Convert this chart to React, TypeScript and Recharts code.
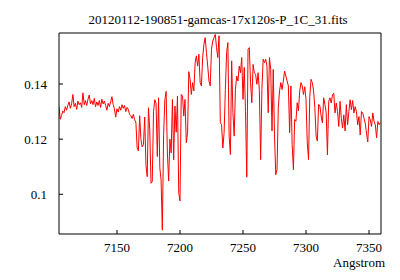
import { LineChart, Line, XAxis, YAxis } from 'recharts'

const title = '20120112-190851-gamcas-17x120s-P_1C_31.fits'
const xLabel = 'Angstrom'
const xTicks = [7150, 7200, 7250, 7300, 7350]
const yTicks = [0.1, 0.12, 0.14]

// flux read per 1 Angstrom, each segment starts at the given wavelength
const fluxFrom7104 = [
  0.1318, 0.1272, 0.1285, 0.1302, 0.1296, 0.1318, 0.1305,
  0.1322, 0.1335, 0.1312, 0.1328, 0.1362, 0.1318, 0.133, 0.1308, 0.1338, 0.1325,
  0.1332, 0.1315, 0.1368, 0.1325, 0.134, 0.1322, 0.1345, 0.136, 0.1328, 0.134,
  0.1325, 0.1348, 0.1318, 0.1335, 0.1322, 0.134, 0.1315, 0.1345, 0.1328, 0.1338,
  0.1322, 0.1305, 0.133, 0.1318, 0.1336, 0.1354, 0.1325, 0.131, 0.128, 0.131,
]
const fluxFrom7151 = [
  0.1298, 0.1318, 0.1305, 0.1325, 0.1312, 0.1322, 0.13, 0.1315, 0.1308, 0.129,
  0.1285, 0.1275, 0.129, 0.127, 0.1262, 0.1168, 0.1158, 0.1285, 0.12, 0.1172,
  0.118, 0.128, 0.1105, 0.1064, 0.1314, 0.1234, 0.104, 0.1046, 0.13, 0.1343,
  0.133, 0.1137, 0.135, 0.1096, 0.1052, 0.087, 0.1216, 0.1343, 0.1373, 0.115,
  0.1048, 0.12, 0.115, 0.1344, 0.1125, 0.132, 0.1225, 0.1356, 0.1005, 0.0976,
]
const fluxFrom7201 = [
  0.1362, 0.1356, 0.1284, 0.1344, 0.1187, 0.1223, 0.1445, 0.1417, 0.1362, 0.1405,
  0.1375, 0.1477, 0.1502, 0.1465, 0.1508, 0.1405, 0.1393, 0.1496, 0.1544, 0.1568,
  0.1514, 0.1465, 0.1411, 0.1393, 0.1526, 0.1556, 0.1568, 0.158, 0.1532, 0.1496,
  0.1575, 0.1259, 0.1253, 0.1168, 0.1223, 0.138, 0.1514, 0.155, 0.1211, 0.1144,
  0.1484, 0.1296, 0.1211, 0.138, 0.1429, 0.1411, 0.1465, 0.1441, 0.1496, 0.1344,
]
const fluxFrom7251 = [
  0.146, 0.13, 0.1062, 0.1526, 0.1532, 0.1405, 0.1332, 0.1471, 0.1441, 0.1435,
  0.1399, 0.1441, 0.1375, 0.1126, 0.138, 0.149, 0.1477, 0.149, 0.1465, 0.1296,
  0.1496, 0.1453, 0.123, 0.1453, 0.1211, 0.1071, 0.109, 0.1314, 0.1375, 0.1405,
  0.138, 0.1411, 0.1447, 0.1429, 0.1411, 0.1393, 0.1223, 0.1393, 0.118, 0.1089,
  0.1271, 0.1265, 0.1332, 0.1302, 0.1375, 0.1405, 0.1393, 0.1362, 0.139, 0.1344,
]
const fluxFrom7301 = [
  0.1187, 0.1126, 0.1356, 0.1417, 0.1405, 0.1375, 0.1314, 0.1211, 0.1193, 0.1326,
  0.132, 0.1284, 0.1259, 0.135, 0.1326, 0.1296, 0.1143, 0.1337, 0.135, 0.1331,
  0.1361, 0.1367, 0.1295, 0.1331, 0.13, 0.1246, 0.1337, 0.1276, 0.124, 0.1288,
  0.123, 0.1325, 0.1252, 0.13, 0.1343, 0.1307, 0.134, 0.1295, 0.1318, 0.13,
  0.1252, 0.1282, 0.1215, 0.13, 0.1295, 0.1276, 0.1258, 0.1222, 0.119, 0.1282,
  0.127, 0.1246, 0.1295, 0.1264, 0.1252, 0.1205, 0.1264, 0.1252, 0.126,
]

const segments: [number, number[]][] = [
  [7104, fluxFrom7104],
  [7151, fluxFrom7151],
  [7201, fluxFrom7201],
  [7251, fluxFrom7251],
  [7301, fluxFrom7301],
]

const spectrum = segments.flatMap(([start, flux]) =>
  flux.map((f, i) => ({ wl: start + i, flux: f }))
)

const font = '"Liberation Serif", serif'
const tickStyle = { fill: '#000', fontSize: 13, fontFamily: font }
const xDomain = [7104, 7359.5]
const yDomain = [0.0856, 0.1585]

const App = () => {
  return (
    <div style={{ position: 'absolute', left: 0, top: 0, width: 400, height: 280, background: '#fff' }}>
      <LineChart width={400} height={280} data={spectrum} margin={{ top: 32, right: 18, bottom: 0, left: 0 }}>
        <XAxis
          dataKey="wl"
          type="number"
          domain={xDomain}
          ticks={xTicks}
          allowDataOverflow
          height={46}
          tickSize={-4}
          tickMargin={13}
          tick={tickStyle}
          axisLine={{ stroke: '#000' }}
          tickLine={{ stroke: '#000' }}
          label={{
            content: () => (
              <g fontSize={13} fontFamily={font} fill="#000">
                <text x={218} y={24} textAnchor="middle">{title}</text>
                <text x={385} y={267} textAnchor="end">{xLabel}</text>
              </g>
            ),
          }}
        />
        <XAxis
          xAxisId="top"
          orientation="top"
          dataKey="wl"
          type="number"
          domain={xDomain}
          ticks={xTicks}
          allowDataOverflow
          height={1}
          tickSize={-4}
          tick={false}
          axisLine={{ stroke: '#000' }}
          tickLine={{ stroke: '#000' }}
        />
        <YAxis
          type="number"
          domain={yDomain}
          ticks={yTicks}
          allowDataOverflow
          width={59}
          tickSize={-4}
          tickMargin={16}
          tick={tickStyle}
          axisLine={{ stroke: '#000' }}
          tickLine={{ stroke: '#000' }}
        />
        <YAxis
          yAxisId="right"
          orientation="right"
          type="number"
          domain={yDomain}
          ticks={yTicks}
          allowDataOverflow
          width={1}
          tickSize={-4}
          tick={false}
          axisLine={{ stroke: '#000' }}
          tickLine={{ stroke: '#000' }}
        />
        <Line
          type="linear"
          dataKey="flux"
          stroke="#ff0000"
          strokeWidth={1}
          dot={false}
          isAnimationActive={false}
        />
      </LineChart>
    </div>
  )
}

export default App
